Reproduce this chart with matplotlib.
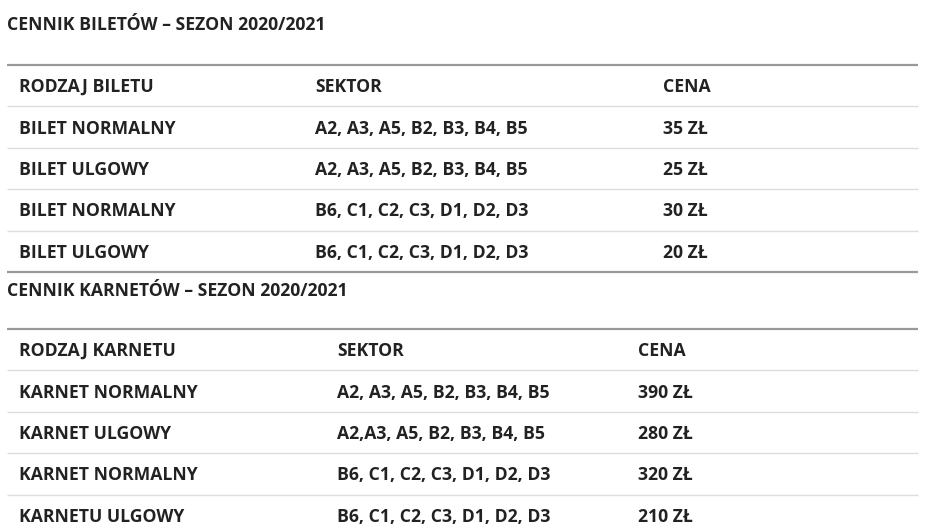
import matplotlib.pyplot as plt

# tabela biletów
tytul1 = 'CENNIK BILETÓW – SEZON 2020/2021'
naglowki1 = ['RODZAJ BILETU', 'SEKTOR', 'CENA']
rodzaj1 = ['BILET NORMALNY', 'BILET ULGOWY', 'BILET NORMALNY', 'BILET ULGOWY']
sektor1 = ['A2, A3, A5, B2, B3, B4, B5', 'A2, A3, A5, B2, B3, B4, B5',
           'B6, C1, C2, C3, D1, D2, D3', 'B6, C1, C2, C3, D1, D2, D3']
cena1 = ['35 ZŁ', '25 ZŁ', '30 ZŁ', '20 ZŁ']

# tabela karnetów
tytul2 = 'CENNIK KARNETÓW – SEZON 2020/2021'
naglowki2 = ['RODZAJ KARNETU', 'SEKTOR', 'CENA']
rodzaj2 = ['KARNET NORMALNY', 'KARNET ULGOWY', 'KARNET NORMALNY', 'KARNETU ULGOWY']
sektor2 = ['A2, A3, A5, B2, B3, B4, B5', 'A2,A3, A5, B2, B3, B4, B5',
           'B6, C1, C2, C3, D1, D2, D3', 'B6, C1, C2, C3, D1, D2, D3']
cena2 = ['390 ZŁ', '280 ZŁ', '320 ZŁ', '210 ZŁ']

plt.rcParams['font.family'] = ['Open Sans', 'DejaVu Sans']
kolor = '#222222'
fs = 12.7

fig = plt.figure(figsize=(9.46, 5.28), dpi=100)
ax = fig.add_axes([0, 0, 1, 1])
ax.set_xlim(0, 946)
ax.set_ylim(528, 0)
ax.axis('off')


def tabela(tytul, y_tytul, y_linia, kolumny, naglowki, rodzaj, sektor, cena, krok=41.5):
    ax.text(7, y_tytul, tytul, fontsize=fs, fontweight='bold',
            color=kolor, va='center_baseline', ha='left')
    ax.plot([7, 918], [y_linia, y_linia], color='#9a9a9a', lw=1.6,
            solid_capstyle='butt')
    wiersze = [naglowki] + [list(r) for r in zip(rodzaj, sektor, cena)]
    for i, w in enumerate(wiersze):
        y = y_linia + 20.5 + i * krok
        for x, t in zip(kolumny, w):
            ax.text(x, y, t, fontsize=fs, fontweight='bold', color=kolor,
                    va='center_baseline', ha='left')
        if i < len(wiersze) - 1:
            yl = y_linia + 41.5 + i * krok
            ax.plot([7, 918], [yl, yl], color='#dddddd', lw=1.0,
                    solid_capstyle='butt')


tabela(tytul1, 22.5, 64.5, [19, 315, 663], naglowki1, rodzaj1, sektor1, cena1)
ax.plot([7, 918], [272, 272], color='#9a9a9a', lw=1.6, solid_capstyle='butt')
tabela(tytul2, 289.5, 328.5, [19, 337, 638], naglowki2, rodzaj2, sektor2, cena2)

fig.savefig('out.png', dpi=100, facecolor='white')
